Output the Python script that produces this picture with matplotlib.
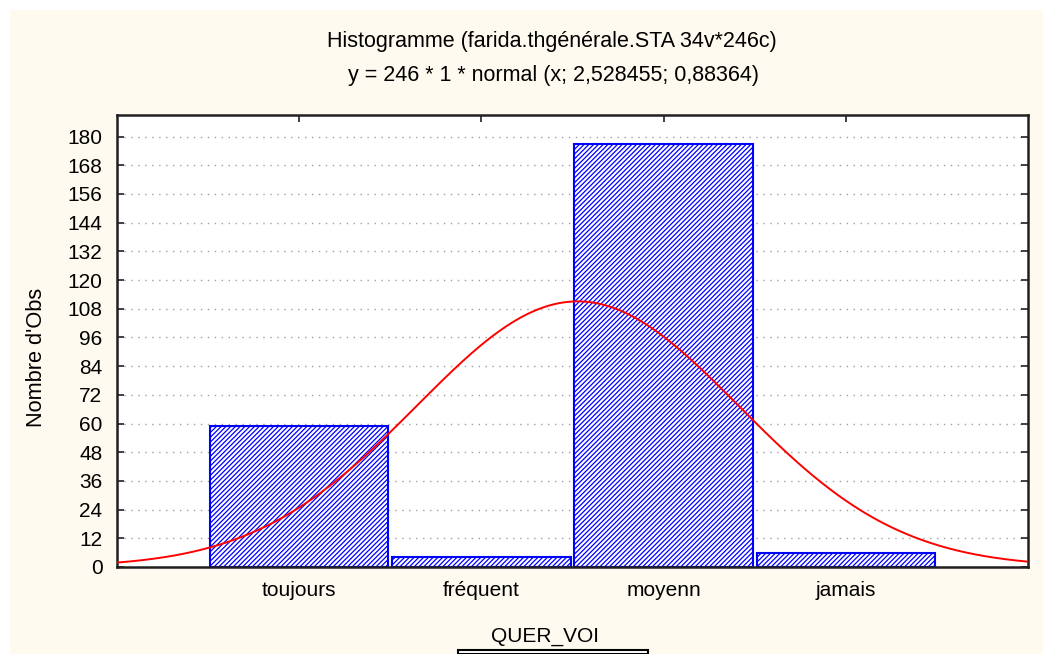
import numpy as np
import matplotlib
matplotlib.use("Agg")
import matplotlib.pyplot as plt
from matplotlib.patches import Rectangle

plt.rcParams['font.family'] = ['Liberation Sans', 'DejaVu Sans']
plt.rcParams['hatch.color'] = '#1a1aff'
plt.rcParams['hatch.linewidth'] = 0.9

# data
categories = ['toujours', 'fréquent', 'moyenn', 'jamais']
counts = [59, 4, 177, 6]
n_obs = 246
mean_fit = 2.528455
sd_fit = 0.88364
yticks = list(range(0, 181, 12))

positions = np.arange(1, len(categories) + 1)
fs = 15

fig = plt.figure(figsize=(10.43, 6.54), dpi=100)
fig.patch.set_facecolor('white')
# cream panel (white strip at top and left like the screenshot)
fig.patches.append(Rectangle((10 / 1043, 0), 1, 1 - 10 / 654,
                             transform=fig.transFigure, facecolor='#fefaef',
                             edgecolor='none', zorder=-10))

ax = fig.add_axes([117 / 1043, 1 - 567 / 654, (1028 - 117) / 1043, (567 - 115) / 654])
ax.set_facecolor('white')

ax.bar(positions, counts, width=0.98, color='white', edgecolor='#0000ff',
       linewidth=1.5, hatch='///////', zorder=2)

# normal curve from the fit stated in the subtitle
xs = np.linspace(0, 5, 400)
ys = n_obs * 1 * np.exp(-0.5 * ((xs - mean_fit) / sd_fit) ** 2) / (sd_fit * np.sqrt(2 * np.pi))
ax.plot(xs, ys, color='#ff0000', linewidth=1.4, zorder=3)

ax.set_xlim(0, 5)
ax.set_ylim(0, 189)
ax.set_yticks(yticks)
ax.set_xticks(positions)
ax.set_xticklabels(categories)
ax.yaxis.grid(True, linestyle=(0, (1, 4)), color='#a0a0a0', linewidth=1, zorder=0)
ax.tick_params(direction='in', length=5, width=1.2, color='#202020',
               labelsize=fs, top=True, right=True, pad=10.5)
ax.tick_params(axis='x', pad=10)
for s in ax.spines.values():
    s.set_color('#202020')
    s.set_linewidth(1.8)

ax.set_ylabel("Nombre d'Obs", fontsize=fs + 0.7)
ax.yaxis.set_label_coords((36 - 117) / 911, (567 - 357) / 452)
ax.yaxis.label.set_va('center')
ax.set_xlabel('QUER_VOI', fontsize=fs)
ax.xaxis.set_label_coords((545 - 117) / 911, (567 - 636) / 452)
ax.xaxis.label.set_va('center')

fig.text(552 / 1043, 1 - 41 / 654, 'Histogramme (farida.thgénérale.STA 34v*246c)',
         ha='center', va='center', fontsize=fs + 0.5)
fig.text(553 / 1043, 1 - 75 / 654, 'y = 246 * 1 * normal (x; 2,528455; 0,88364)',
         ha='center', va='center', fontsize=fs + 0.5)

# legend box cut off at the bottom edge
fig.patches.append(Rectangle((458 / 1043, 0), (648 - 458) / 1043, 4 / 654,
                             transform=fig.transFigure, facecolor='white',
                             edgecolor='black', linewidth=1.5))

fig.savefig('out.png', dpi=100, facecolor=fig.get_facecolor())
